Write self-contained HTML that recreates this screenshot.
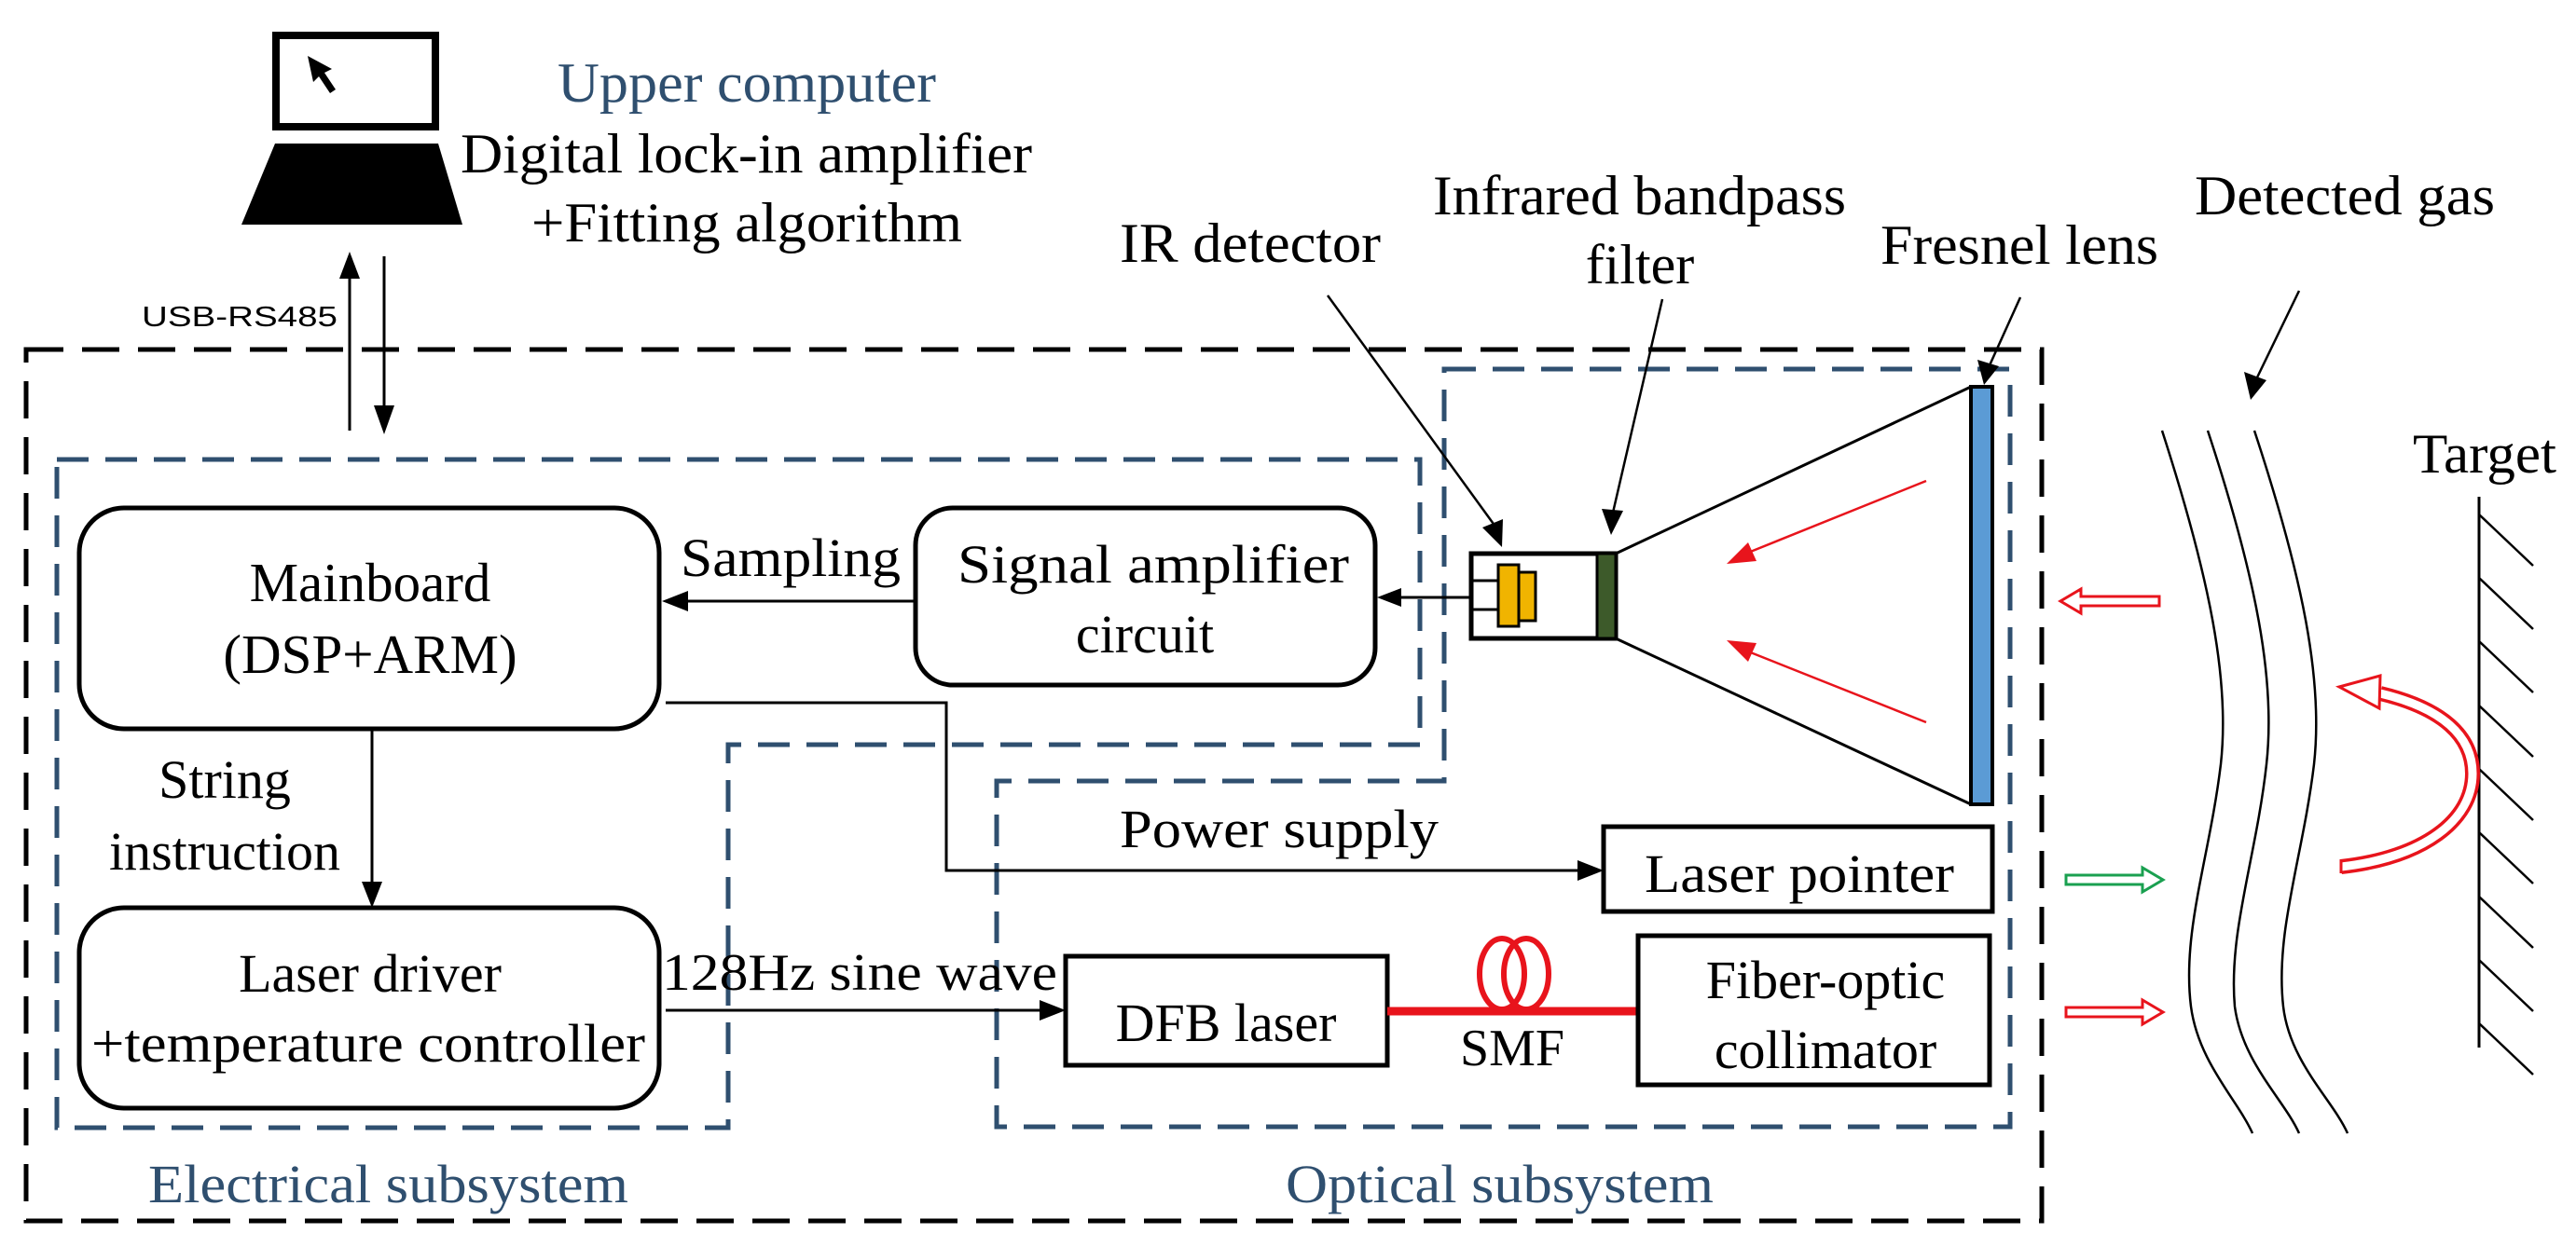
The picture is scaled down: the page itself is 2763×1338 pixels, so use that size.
<!DOCTYPE html>
<html><head><meta charset="utf-8"><style>
html,body{margin:0;padding:0;background:#fff;}
svg{display:block;}
text{font-family:"Liberation Serif",serif;fill:#000;}
.b{fill:#2f4f6f;}
</style></head><body>
<svg width="2763" height="1338" viewBox="0 0 2763 1338" xmlns="http://www.w3.org/2000/svg">
<defs>
<marker id="ah" markerWidth="10" markerHeight="10" refX="9" refY="5" orient="auto" markerUnits="userSpaceOnUse" viewBox="0 0 10 10">
</marker>
</defs>
<rect width="2763" height="1338" fill="#fff"/>

<!-- laptop -->
<rect x="296" y="38" width="171" height="98" fill="#fff" stroke="#000" stroke-width="8"/>
<polygon points="295,154 470,154 496,241 259,241" fill="#000"/>
<polygon points="330,60 336,88 342,82 354,100 360,96 348,78 356,74" fill="#000"/>

<text x="598" y="109" class="b" font-size="60" textLength="406" lengthAdjust="spacingAndGlyphs">Upper computer</text>
<text x="494" y="185" font-size="60" textLength="613" lengthAdjust="spacingAndGlyphs">Digital lock-in amplifier</text>
<text x="570" y="259" font-size="60" textLength="462" lengthAdjust="spacingAndGlyphs">+Fitting algorithm</text>
<text x="152" y="350" font-size="31" style="font-family:'Liberation Sans',sans-serif" textLength="210" lengthAdjust="spacingAndGlyphs">USB-RS485</text>

<!-- usb arrows -->
<line x1="375" y1="462" x2="375" y2="295" stroke="#000" stroke-width="3"/>
<polygon points="375,270 364,299 386,299" fill="#000"/>
<line x1="412" y1="275" x2="412" y2="440" stroke="#000" stroke-width="3"/>
<polygon points="412,466 401,435 423,435" fill="#000"/>

<!-- outer dashed -->
<rect x="28" y="375" width="2162" height="935" fill="none" stroke="#000" stroke-width="5" stroke-dasharray="40 20"/>
<!-- electrical dashed -->
<polygon points="61,493 1523,493 1523,799 781,799 781,1210 61,1210" fill="none" stroke="#2f4f6f" stroke-width="5" stroke-dasharray="34 18"/>
<!-- optical dashed -->
<polygon points="1549,396 2156,396 2156,1209 1069,1209 1069,838 1549,838" fill="none" stroke="#2f4f6f" stroke-width="5" stroke-dasharray="34 18"/>

<!-- Mainboard -->
<rect x="85" y="545" width="622" height="237" rx="48" fill="#fff" stroke="#000" stroke-width="5"/>
<text x="397" y="645" font-size="59" text-anchor="middle">Mainboard</text>
<text x="397" y="722" font-size="59" text-anchor="middle">(DSP+ARM)</text>

<!-- Signal amp -->
<rect x="982" y="545" width="493" height="190" rx="40" fill="#fff" stroke="#000" stroke-width="5"/>
<text x="1027" y="625" font-size="58" textLength="420" lengthAdjust="spacingAndGlyphs">Signal amplifier</text>
<text x="1228" y="700" font-size="58" text-anchor="middle">circuit</text>

<text x="730" y="618" font-size="58" textLength="236" lengthAdjust="spacingAndGlyphs">Sampling</text>
<line x1="982" y1="645" x2="735" y2="645" stroke="#000" stroke-width="3"/>
<polygon points="710,645 738,634 738,656" fill="#000"/>

<!-- detector to signal -->
<line x1="1578" y1="641" x2="1500" y2="641" stroke="#000" stroke-width="3"/>
<polygon points="1477,641 1503,631 1503,651" fill="#000"/>

<!-- power line -->
<polyline points="714,754 1015,754 1015,934 1695,934" fill="none" stroke="#000" stroke-width="3"/>
<polygon points="1720,934 1692,923 1692,945" fill="#000"/>
<text x="1201" y="909" font-size="58" textLength="342" lengthAdjust="spacingAndGlyphs">Power supply</text>

<!-- string instruction -->
<line x1="399" y1="782" x2="399" y2="948" stroke="#000" stroke-width="3"/>
<polygon points="399,974 388,946 410,946" fill="#000"/>
<text x="241" y="856" font-size="58" text-anchor="middle">String</text>
<text x="241" y="933" font-size="58" text-anchor="middle">instruction</text>

<!-- laser driver -->
<rect x="85" y="974" width="622" height="215" rx="48" fill="#fff" stroke="#000" stroke-width="5"/>
<text x="397" y="1064" font-size="58" text-anchor="middle">Laser driver</text>
<text x="98" y="1139" font-size="58" textLength="594" lengthAdjust="spacingAndGlyphs">+temperature controller</text>

<text x="710" y="1062" font-size="56" textLength="424" lengthAdjust="spacingAndGlyphs">128Hz sine wave</text>
<line x1="714" y1="1084" x2="1118" y2="1084" stroke="#000" stroke-width="3"/>
<polygon points="1143,1084 1115,1073 1115,1095" fill="#000"/>

<!-- DFB -->
<rect x="1143" y="1026" width="345" height="117" fill="#fff" stroke="#000" stroke-width="5"/>
<text x="1315" y="1117" font-size="58" text-anchor="middle">DFB laser</text>
<!-- SMF -->
<line x1="1488" y1="1085" x2="1757" y2="1085" stroke="#e8141c" stroke-width="9"/>
<ellipse cx="1611" cy="1045" rx="24" ry="38" fill="none" stroke="#e8141c" stroke-width="6"/>
<ellipse cx="1637" cy="1045" rx="24" ry="38" fill="none" stroke="#e8141c" stroke-width="6"/>
<text x="1622" y="1143" font-size="56" text-anchor="middle">SMF</text>

<!-- collimator -->
<rect x="1757" y="1004" width="377" height="160" fill="#fff" stroke="#000" stroke-width="5"/>
<text x="1958" y="1071" font-size="58" text-anchor="middle">Fiber-optic</text>
<text x="1958" y="1146" font-size="58" text-anchor="middle">collimator</text>

<!-- laser pointer -->
<rect x="1720" y="887" width="417" height="91" fill="#fff" stroke="#000" stroke-width="5"/>
<text x="1764" y="957" font-size="58" textLength="332" lengthAdjust="spacingAndGlyphs">Laser pointer</text>

<!-- detector -->
<line x1="1733" y1="594" x2="2114" y2="415" stroke="#000" stroke-width="3"/>
<line x1="1733" y1="685" x2="2114" y2="863" stroke="#000" stroke-width="3"/>
<rect x="1578" y="594" width="155" height="91" fill="#fff" stroke="#000" stroke-width="5"/>
<rect x="1713" y="594" width="20" height="91" fill="#3d5a2a" stroke="#000" stroke-width="3"/>
<line x1="1578" y1="623" x2="1607" y2="623" stroke="#000" stroke-width="3"/>
<line x1="1578" y1="654" x2="1607" y2="654" stroke="#000" stroke-width="3"/>
<rect x="1629" y="614" width="18" height="52" fill="#f0b400" stroke="#000" stroke-width="3"/>
<rect x="1607" y="606" width="22" height="66" fill="#f0b400" stroke="#000" stroke-width="3"/>

<!-- lens -->
<rect x="2114" y="415" width="23" height="448" fill="#5b9bd5" stroke="#000" stroke-width="4"/>

<!-- red inner arrows -->
<line x1="2066" y1="516" x2="1870" y2="595" stroke="#e8141c" stroke-width="2.5"/>
<polygon points="1852,605 1875,582 1884,602" fill="#e8141c"/>
<line x1="2066" y1="775" x2="1870" y2="697" stroke="#e8141c" stroke-width="2.5"/>
<polygon points="1852,687 1875,710 1884,690" fill="#e8141c"/>

<!-- leader lines -->
<line x1="1424" y1="317" x2="1604" y2="565" stroke="#000" stroke-width="2.5"/>
<polygon points="1611,587 1590,566 1612,557" fill="#000"/>
<line x1="1783" y1="321" x2="1730" y2="550" stroke="#000" stroke-width="2.5"/>
<polygon points="1728,574 1718,546 1741,548" fill="#000"/>
<line x1="2167" y1="319" x2="2134" y2="392" stroke="#000" stroke-width="2.5"/>
<polygon points="2128,413 2121,386 2144,393" fill="#000"/>
<line x1="2466" y1="312" x2="2421" y2="405" stroke="#000" stroke-width="2.5"/>
<polygon points="2414,429 2407,399 2431,408" fill="#000"/>

<text x="1201" y="281" font-size="60" textLength="280" lengthAdjust="spacingAndGlyphs">IR detector</text>
<text x="1537" y="230" font-size="60" textLength="443" lengthAdjust="spacingAndGlyphs">Infrared bandpass</text>
<text x="1759" y="304" font-size="60" text-anchor="middle">filter</text>
<text x="2017" y="283" font-size="60" textLength="298" lengthAdjust="spacingAndGlyphs">Fresnel lens</text>
<text x="2354" y="230" font-size="60" textLength="322" lengthAdjust="spacingAndGlyphs">Detected gas</text>
<text x="2588" y="507" font-size="60" textLength="154" lengthAdjust="spacingAndGlyphs">Target</text>

<!-- hollow arrows -->
<polygon points="2316,640 2232,640 2232,632 2210,645 2232,658 2232,650 2316,650" fill="#fff" stroke="#e8141c" stroke-width="3"/>
<polygon points="2216,939 2298,939 2298,931 2320,944 2298,957 2298,949 2216,949" fill="#fff" stroke="#1aa050" stroke-width="3"/>
<polygon points="2216,1081 2298,1081 2298,1073 2320,1086 2298,1099 2298,1091 2216,1091" fill="#fff" stroke="#e8141c" stroke-width="3"/>

<!-- gas curves -->
<g fill="none" stroke="#000" stroke-width="2.5">
<path d="M2319,462 C2370,620 2392,730 2382,820 C2370,920 2340,1000 2350,1080 C2358,1140 2400,1180 2416,1216"/>
<path d="M2368,462 C2420,620 2441,730 2431,820 C2420,920 2390,1000 2397,1080 C2405,1140 2450,1180 2466,1216"/>
<path d="M2418,462 C2470,620 2492,730 2482,820 C2470,920 2440,1000 2449,1080 C2456,1140 2502,1180 2518,1216"/>
</g>

<!-- target wall -->
<line x1="2659" y1="533" x2="2659" y2="1124" stroke="#000" stroke-width="3"/>
<g stroke="#000" stroke-width="2.5">
<line x1="2659" y1="552" x2="2717" y2="607"/>
<line x1="2659" y1="620" x2="2717" y2="675"/>
<line x1="2659" y1="688" x2="2717" y2="743"/>
<line x1="2659" y1="757" x2="2717" y2="812"/>
<line x1="2659" y1="825" x2="2717" y2="880"/>
<line x1="2659" y1="893" x2="2717" y2="948"/>
<line x1="2659" y1="962" x2="2717" y2="1017"/>
<line x1="2659" y1="1030" x2="2717" y2="1085"/>
<line x1="2659" y1="1098" x2="2717" y2="1153"/>
</g>

<!-- curved hollow arrow -->
<path d="M2511,930 C2600,920 2652,880 2652,830 C2652,790 2620,760 2553,744" fill="none" stroke="#e8141c" stroke-width="16"/>
<path d="M2511,930 C2600,920 2652,880 2652,830 C2652,790 2620,760 2553,744" fill="none" stroke="#fff" stroke-width="9"/>
<line x1="2511" y1="922" x2="2511" y2="937" stroke="#e8141c" stroke-width="3"/>
<polygon points="2509,737 2553,725 2552,760" fill="#fff" stroke="#e8141c" stroke-width="3"/>

<text x="159" y="1290" class="b" font-size="58" textLength="515" lengthAdjust="spacingAndGlyphs">Electrical subsystem</text>
<text x="1379" y="1290" class="b" font-size="58" textLength="459" lengthAdjust="spacingAndGlyphs">Optical subsystem</text>
</svg>
</body></html>
